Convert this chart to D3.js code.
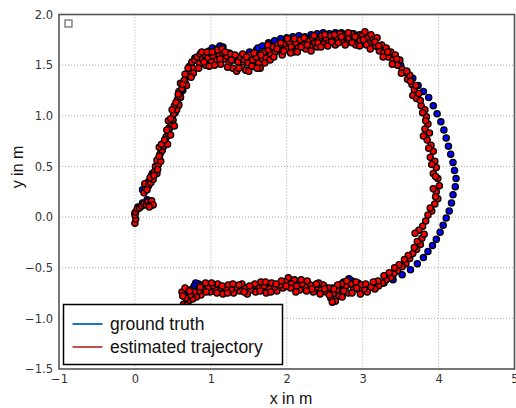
<!DOCTYPE html>
<html>
<head>
<meta charset="utf-8">
<script src="https://cdn.jsdelivr.net/npm/d3@7"></script>
<style>
  body { margin: 0; background: #fff; }
  svg { display: block; }
  .tick text { font-family: "DejaVu Sans", sans-serif; font-size: 11.5px; fill: #333; }
  .lbl { font-family: "Liberation Sans", Arial, sans-serif; font-size: 16px; fill: #111; }
  .leg { font-family: "Liberation Sans", Arial, sans-serif; font-size: 17.5px; fill: #111; }
</style>
</head>
<body>
<svg id="chart" width="516" height="408"></svg>
<script>
// trajectory chart

// axis ticks
const xTicks = [-1, 0, 1, 2, 3, 4, 5];
const yTicks = [-1.5, -1.0, -0.5, 0.0, 0.5, 1.0, 1.5, 2.0];
const seriesNames = ["ground truth", "estimated trajectory"];

// ground truth positions [x, y] in m
const groundTruth = [
  [0.00,0.04],[0.04,0.10],[0.10,0.14],[0.16,0.17],
  [0.10,0.27],[0.18,0.35],[0.23,0.43],[0.28,0.50],[0.32,0.58],[0.35,0.65],[0.39,0.72],[0.43,0.80],
  [0.46,0.88],[0.50,0.95],[0.53,1.03],[0.57,1.10],[0.60,1.18],[0.63,1.25],[0.66,1.33],[0.70,1.42],
  [0.74,1.50],[0.79,1.57],
  [0.88,1.62],[0.98,1.64],[1.02,1.67],[1.08,1.66],[1.12,1.69],[1.16,1.68],[1.24,1.62],[1.33,1.58],
  [1.42,1.60],[1.51,1.63],[1.60,1.65],[1.62,1.67],[1.68,1.69],[1.76,1.72],[1.84,1.74],[1.92,1.76],
  [2.00,1.77],[2.08,1.78],[2.16,1.79],[2.24,1.78],[2.32,1.80],[2.40,1.81],[2.48,1.82],[2.56,1.81],
  [2.64,1.82],[2.72,1.82],[2.80,1.80],[2.88,1.81],[2.96,1.80],[3.04,1.77],[3.12,1.73],[3.20,1.68],
  [3.24,1.66],
  [3.30,1.63],[3.40,1.57],[3.50,1.50],[3.58,1.44],[3.66,1.37],[3.73,1.30],[3.80,1.24],[3.87,1.18],
  [3.93,1.10],[3.98,1.02],[4.03,0.94],[4.07,0.86],[4.10,0.78],[4.13,0.70],[4.16,0.62],[4.19,0.54],
  [4.21,0.46],[4.23,0.38],[4.22,0.30],[4.19,0.22],[4.17,0.14],[4.14,0.06],[4.10,-0.01],[4.06,-0.08],
  [4.02,-0.15],[3.97,-0.22],[3.92,-0.28],[3.86,-0.34],[3.80,-0.40],[3.72,-0.46],[3.63,-0.52],
  [3.52,-0.57],[3.40,-0.62],[3.28,-0.65],[3.16,-0.67],
  [3.04,-0.67],[2.94,-0.65],[2.90,-0.68],[2.86,-0.63],[2.82,-0.61],[2.78,-0.66],[2.75,-0.64],
  [2.70,-0.68],[2.60,-0.70],[2.50,-0.69],[2.40,-0.66],[2.30,-0.68],[2.20,-0.67],[2.10,-0.66],
  [2.00,-0.66],[1.90,-0.67],[1.80,-0.68],[1.70,-0.69],[1.60,-0.70],[1.50,-0.70],[1.40,-0.69],
  [1.30,-0.70],[1.20,-0.70],[1.10,-0.69],[1.00,-0.70],[0.90,-0.68],[0.86,-0.70],[0.84,-0.66],
  [0.80,-0.65],[0.78,-0.68],[0.76,-0.71],[0.72,-0.72],[0.66,-0.77]
];

// estimated positions [x, y] in m
const estimated = [
  [0.00,-0.06],[0.01,-0.02],[0.00,0.02],[0.01,0.05],[0.03,0.08],[0.06,0.09],[0.09,0.11],[0.12,0.13],
  [0.15,0.12],[0.17,0.15],[0.20,0.13],[0.22,0.16],[0.24,0.12],[0.19,0.10],
  [0.12,0.24],[0.14,0.29],[0.13,0.33],[0.18,0.31],[0.21,0.34],[0.24,0.37],[0.22,0.41],[0.26,0.45],
  [0.29,0.43],[0.27,0.50],[0.31,0.52],[0.29,0.56],[0.34,0.55],[0.33,0.62],[0.36,0.66],[0.32,0.69],
  [0.38,0.70],[0.40,0.74],[0.43,0.72],[0.41,0.79],[0.44,0.83],[0.47,0.81],[0.45,0.88],[0.48,0.92],
  [0.44,0.95],[0.50,0.96],[0.52,0.90],[0.51,1.02],[0.55,1.06],[0.52,1.10],[0.58,1.11],[0.56,1.16],
  [0.60,1.19],[0.58,1.24],[0.62,1.27],[0.60,1.32],[0.65,1.35],[0.68,1.30],[0.70,1.40],[0.73,1.44],
  [0.72,1.49],[0.76,1.47],[0.75,1.53],[0.79,1.55],[0.77,1.42],
  [0.16,0.27],[0.20,0.39],[0.25,0.41],[0.30,0.47],[0.32,0.60],[0.35,0.72],[0.39,0.76],[0.42,0.86],
  [0.47,0.97],[0.49,1.06],[0.54,1.13],[0.57,1.21],[0.63,1.31],[0.66,1.41],[0.70,1.47],[0.74,1.38],
  [0.82,1.58],[0.85,1.52],[0.86,1.61],[0.89,1.56],[0.92,1.60],[0.93,1.50],[0.96,1.57],[0.99,1.62],
  [1.01,1.53],[1.03,1.59],[1.06,1.64],[1.08,1.55],[1.11,1.60],[1.13,1.51],[1.16,1.62],[1.18,1.56],
  [1.21,1.59],[1.24,1.52],[1.26,1.61],[1.29,1.47],[1.31,1.55],[1.34,1.44],[1.36,1.53],[1.39,1.58],
  [1.41,1.48],[1.44,1.55],[1.46,1.45],[1.49,1.52],[1.52,1.60],[1.55,1.55],[1.58,1.49],[1.60,1.58],
  [1.63,1.52],[1.65,1.47],[1.68,1.56],[1.70,1.62],[1.73,1.57],[1.76,1.65],[1.79,1.60],[1.82,1.68],
  [1.85,1.63],[1.88,1.70],[1.91,1.65],[1.94,1.60],[1.97,1.71],[2.00,1.66],[2.03,1.73],[2.06,1.68],
  [2.09,1.63],[2.12,1.72],[2.15,1.67],[2.18,1.75],[2.21,1.70],[2.25,1.66],[2.28,1.74],[2.31,1.69],
  [2.34,1.77],[2.37,1.72],[2.40,1.68],[2.43,1.75],[2.46,1.79],[2.49,1.71],[2.52,1.76],[2.55,1.72],
  [2.58,1.79],[2.61,1.74],[2.64,1.70],[2.67,1.77],[2.70,1.81],[2.73,1.74],[2.76,1.79],[2.79,1.72],
  [2.82,1.77],[2.85,1.81],[2.88,1.75],[2.91,1.70],[2.94,1.79],[2.97,1.74],[3.00,1.80],[3.03,1.83],
  [3.06,1.77],[3.09,1.72],[3.11,1.80],[3.14,1.75],[3.17,1.69],[3.19,1.77],[3.22,1.64],[3.25,1.70],
  [0.84,1.47],[0.88,1.63],[0.91,1.53],[0.95,1.63],[0.98,1.49],[1.02,1.63],[1.05,1.50],[1.09,1.65],
  [1.12,1.56],[1.15,1.66],[1.19,1.63],[1.22,1.48],[1.27,1.55],[1.32,1.60],[1.37,1.47],[1.42,1.61],
  [1.47,1.58],[1.50,1.44],[1.54,1.49],[1.57,1.62],[1.61,1.47],[1.66,1.60],[1.71,1.52],[1.75,1.70],
  [1.78,1.55],[1.83,1.58],[1.87,1.66],[1.92,1.72],[1.96,1.64],[2.01,1.76],[2.05,1.62],[2.10,1.76],
  [2.14,1.63],[2.19,1.68],[2.23,1.77],[2.27,1.70],[2.32,1.64],[2.36,1.79],[2.41,1.72],[2.45,1.68],
  [2.50,1.80],[2.54,1.69],[2.59,1.73],[2.63,1.80],[2.68,1.72],[2.72,1.78],[2.77,1.70],[2.81,1.82],
  [2.86,1.72],[2.90,1.78],[2.96,1.69],[3.01,1.75],[3.05,1.70],[3.10,1.66],[3.16,1.73],[3.21,1.69],
  [3.28,1.62],[3.31,1.67],[3.34,1.58],[3.37,1.63],[3.40,1.55],[3.43,1.60],[3.46,1.50],[3.49,1.55],
  [3.52,1.46],[3.56,1.43],[3.59,1.36],[3.62,1.40],[3.65,1.31],[3.68,1.26],[3.66,1.20],[3.71,1.17],
  [3.74,1.22],[3.77,1.10],[3.82,1.06],[3.84,0.99],[3.86,0.92],[3.82,0.87],[3.88,0.83],[3.85,0.76],
  [3.90,0.71],[3.93,0.65],[3.89,0.59],[3.95,0.55],[3.97,0.49],[3.93,0.43],[3.99,0.38],[4.01,0.31],
  [3.97,0.25],[3.99,0.18],[3.95,0.13],[3.91,0.06],[3.86,0.02],[3.83,-0.04],[3.79,-0.09],[3.74,-0.13],
  [3.69,-0.16],[3.78,-0.21],[3.76,-0.27],[3.71,-0.32],[3.66,-0.36],[3.62,-0.41],[3.57,-0.46],
  [3.52,-0.49],[3.46,-0.53],[3.41,-0.56],[3.37,-0.60],[3.31,-0.62],[3.26,-0.65],[3.21,-0.68],
  [3.16,-0.71],[3.11,-0.69],
  [3.27,1.58],[3.33,1.63],[3.39,1.51],[3.45,1.56],[3.51,1.42],[3.58,1.44],[3.63,1.34],[3.70,1.30],
  [3.76,1.15],[3.79,1.03],[3.83,0.95],[3.80,0.80],[3.87,0.68],[3.91,0.52],[3.96,0.40],[3.93,0.28],
  [3.96,0.20],[3.89,0.09],[3.81,-0.17],[3.72,-0.24],[3.68,-0.30],[3.60,-0.38],[3.55,-0.42],
  [3.48,-0.47],[3.42,-0.50],[3.35,-0.55],[3.28,-0.58],[3.20,-0.63],[3.14,-0.64],
  [3.06,-0.74],[3.02,-0.71],[2.98,-0.67],[2.95,-0.72],[2.91,-0.64],[2.88,-0.70],[2.84,-0.66],
  [2.81,-0.75],[2.78,-0.68],[2.75,-0.73],[2.72,-0.66],[2.69,-0.78],[2.66,-0.72],[2.64,-0.83],
  [2.61,-0.76],[2.58,-0.80],[2.55,-0.70],[2.52,-0.74],[2.48,-0.67],[2.45,-0.72],[2.42,-0.65],
  [2.38,-0.70],[2.35,-0.74],[2.31,-0.67],[2.27,-0.63],[2.24,-0.69],[2.20,-0.66],[2.17,-0.72],
  [2.13,-0.68],[2.10,-0.62],[2.06,-0.66],[2.02,-0.60],[1.98,-0.64],[1.95,-0.70],[1.91,-0.67],
  [1.87,-0.73],[1.84,-0.69],[1.80,-0.65],[1.77,-0.71],[1.73,-0.75],[1.70,-0.68],[1.66,-0.64],
  [1.63,-0.70],[1.59,-0.74],[1.56,-0.68],[1.52,-0.72],[1.48,-0.76],[1.45,-0.70],[1.41,-0.66],
  [1.38,-0.73],[1.34,-0.69],[1.30,-0.75],[1.27,-0.71],[1.23,-0.67],[1.20,-0.72],[1.16,-0.76],
  [1.13,-0.70],[1.09,-0.66],[1.06,-0.72],[1.02,-0.68],[0.99,-0.74],[0.96,-0.70],[0.93,-0.65],
  [0.90,-0.72],[0.87,-0.77],[0.84,-0.73],[0.81,-0.79],[0.78,-0.74],[0.76,-0.81],[0.73,-0.77],
  [0.70,-0.84],[0.67,-0.80],[0.64,-0.86],[0.62,-0.74],[0.66,-0.70],
  [3.04,-0.66],[2.97,-0.76],[2.92,-0.70],[2.86,-0.75],[2.79,-0.63],[2.73,-0.79],[2.67,-0.67],
  [2.62,-0.71],[2.60,-0.84],[2.56,-0.77],[2.50,-0.71],[2.44,-0.76],[2.39,-0.66],[2.33,-0.71],
  [2.26,-0.73],[2.19,-0.62],[2.12,-0.74],[2.05,-0.70],[1.99,-0.68],[1.93,-0.63],[1.86,-0.66],
  [1.79,-0.74],[1.72,-0.64],[1.65,-0.73],[1.58,-0.66],[1.51,-0.68],[1.44,-0.74],[1.37,-0.67],
  [1.29,-0.66],[1.22,-0.75],[1.15,-0.68],[1.08,-0.75],[1.01,-0.65],[0.94,-0.74],[0.86,-0.69],
  [0.72,-0.73],[0.68,-0.87],[0.63,-0.78]
];

const W = 516, H = 408;
const margin = { top: 14.5, right: 1.5, bottom: 39, left: 59 };
const width = W - margin.left - margin.right;
const height = H - margin.top - margin.bottom;

const svg = d3.select("#chart");

// soft edges like the original bitmap
const defs = svg.append("defs");
defs.append("filter").attr("id", "soft")
  .append("feGaussianBlur").attr("stdDeviation", 0.45);

const g = svg.append("g")
  .attr("transform", `translate(${margin.left},${margin.top})`);

const x = d3.scaleLinear().domain([-1, 5]).range([0, width]);
const y = d3.scaleLinear().domain([-1.5, 2]).range([height, 0]);

const fmtX = d => d < 0 ? "\u2212" + Math.abs(d) : String(d);
const fmtY = d => (d < 0 ? "\u2212" : "") + Math.abs(d).toFixed(1);

// dotted grid
g.append("g").selectAll("line").data(xTicks.slice(1, -1)).join("line")
  .attr("x1", d => x(d)).attr("x2", d => x(d))
  .attr("y1", 0).attr("y2", height)
  .attr("stroke", "#aaa").attr("stroke-width", 1).attr("stroke-dasharray", "1,2");
g.append("g").selectAll("line").data(yTicks.slice(1, -1)).join("line")
  .attr("x1", 0).attr("x2", width)
  .attr("y1", d => y(d)).attr("y2", d => y(d))
  .attr("stroke", "#aaa").attr("stroke-width", 1).attr("stroke-dasharray", "1,2");

// markers: ground truth first, estimate on top
const pts = g.append("g").attr("filter", "url(#soft)");
pts.selectAll(".gt").data(groundTruth).join("circle")
  .attr("class", "gt")
  .attr("cx", d => x(d[0])).attr("cy", d => y(d[1]))
  .attr("r", 3.1)
  .attr("fill", "#0000ff").attr("stroke", "#000").attr("stroke-width", 1.3);
pts.selectAll(".est").data(estimated).join("circle")
  .attr("class", "est")
  .attr("cx", d => x(d[0])).attr("cy", d => y(d[1]))
  .attr("r", 3.1)
  .attr("fill", "#ff0000").attr("stroke", "#000").attr("stroke-width", 1.3);

// axes
g.append("g")
  .attr("transform", `translate(0,${height})`)
  .call(d3.axisBottom(x).tickValues(xTicks).tickFormat(fmtX).tickSize(0).tickPadding(6))
  .call(a => a.select(".domain").remove());
g.append("g")
  .call(d3.axisLeft(y).tickValues(yTicks).tickFormat(fmtY).tickSize(0).tickPadding(6))
  .call(a => a.select(".domain").remove());

// frame
g.append("rect")
  .attr("width", width).attr("height", height)
  .attr("fill", "none").attr("stroke", "#555").attr("stroke-width", 1.6);

// empty legend box of the original plot
g.append("rect")
  .attr("x", 6).attr("y", 5.5).attr("width", 7).attr("height", 7)
  .attr("fill", "#fff").attr("stroke", "#666").attr("stroke-width", 1.2);

// axis titles
svg.append("text").attr("class", "lbl")
  .attr("x", 291).attr("y", 404).attr("text-anchor", "middle")
  .text("x in m");
svg.append("text").attr("class", "lbl")
  .attr("transform", "translate(23,167) rotate(-90)")
  .attr("text-anchor", "middle")
  .text("y in m");

// legend
const legend = svg.append("g").attr("transform", "translate(63.5,304.5)");
legend.append("rect")
  .attr("width", 219).attr("height", 60)
  .attr("fill", "#fff").attr("stroke", "#000").attr("stroke-width", 1.5);
const legColors = ["#1a74c8", "#c0504d"];
const item = legend.selectAll(".item").data(seriesNames).join("g")
  .attr("class", "item")
  .attr("transform", (d, i) => `translate(0,${19.5 + i * 23})`);
item.append("line")
  .attr("x1", 9).attr("x2", 39)
  .attr("stroke", (d, i) => legColors[i]).attr("stroke-width", 2);
item.append("text").attr("class", "leg")
  .attr("x", 46.5).attr("y", 6)
  .text(d => d);
</script>
</body>
</html>
